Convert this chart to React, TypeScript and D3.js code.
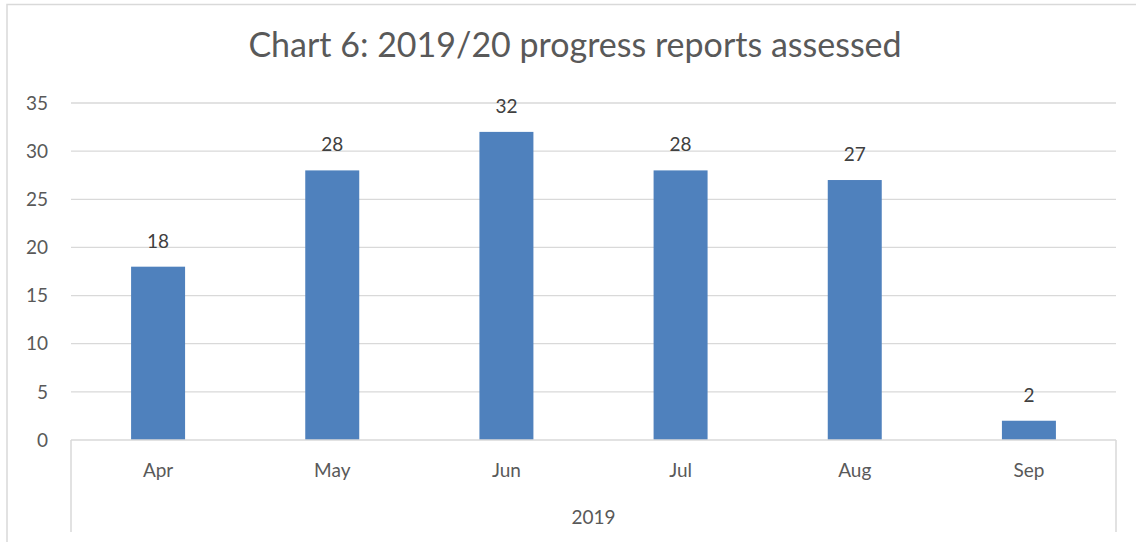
import React from 'react';
import * as d3 from 'd3';

const title = 'Chart 6: 2019/20 progress reports assessed';
const months = ['Apr', 'May', 'Jun', 'Jul', 'Aug', 'Sep'];
const reports = [18, 28, 32, 28, 27, 2];
const yTicks = [0, 5, 10, 15, 20, 25, 30, 35];
const yearLabel = '2019';

const W = 1136;
const H = 542;
const plot = { left: 71, right: 1116, top: 103, bottom: 440 };
const FONT = "Lato, 'Noto Sans', sans-serif";
const GRID = '#d9d9d9';
const TEXT = '#595959';

export default function App() {
  const x = d3.scaleBand().domain(months).range([plot.left, plot.right]).paddingInner(0.69).paddingOuter(0.345);
  const xCat = d3.scaleBand().domain(months).range([plot.left, plot.right]);
  const y = d3.scaleLinear().domain([0, 35]).range([plot.bottom, plot.top]);

  return (
    <svg width={W} height={H} style={{ position: 'absolute', left: 0, top: 0, background: '#fff' }} fontFamily={FONT}>
      <rect x={7} y={4.5} width={W + 20} height={H + 20} fill="#fff" stroke={GRID} strokeWidth={1.5} />
      <text x={575} y={57} textAnchor="middle" fontSize={34} fill={TEXT}>{title}</text>

      {yTicks.map(t => (
        <g key={t}>
          {t > 0 && <line x1={plot.left} x2={plot.right} y1={y(t)} y2={y(t)} stroke={GRID} strokeWidth={1.3} />}
          <text x={48} y={y(t)} dy="0.35em" textAnchor="end" fontSize={19} fill={TEXT}>{t}</text>
        </g>
      ))}

      {months.map((m, i) => (
        <g key={m}>
          <rect x={x(m)} y={y(reports[i])} width={x.bandwidth()} height={y(0) - y(reports[i])} fill="#4f81bd" />
          <text x={x(m)! + x.bandwidth() / 2} y={y(reports[i]) - 19} textAnchor="middle" fontSize={19} fill="#404040">{reports[i]}</text>
          <text x={xCat(m)! + xCat.bandwidth() / 2} y={477} textAnchor="middle" fontSize={19} fill={TEXT}>{m}</text>
        </g>
      ))}

      <line x1={plot.left} x2={plot.right} y1={y(0)} y2={y(0)} stroke={GRID} strokeWidth={1.5} />
      <line x1={plot.left} x2={plot.left} y1={y(0)} y2={532} stroke={GRID} strokeWidth={1.5} />
      <line x1={plot.right} x2={plot.right} y1={y(0)} y2={532} stroke={GRID} strokeWidth={1.5} />
      <text x={(plot.left + plot.right) / 2} y={524} textAnchor="middle" fontSize={19} fill={TEXT}>{yearLabel}</text>
    </svg>
  );
}
